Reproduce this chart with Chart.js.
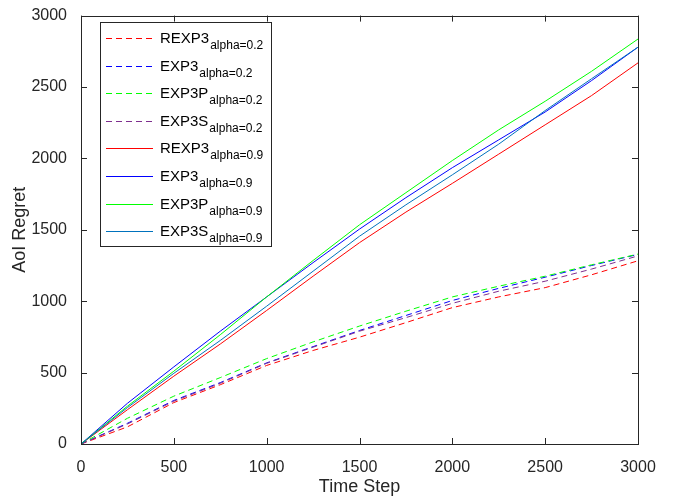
<!DOCTYPE html>
<html>
<head>
<meta charset="utf-8">
<script src="https://cdn.jsdelivr.net/npm/chart.js@4/dist/chart.umd.min.js"></script>
<style>
  html, body { margin: 0; padding: 0; background: #fff; }
  canvas { display: block; }
</style>
</head>
<body>
<canvas id="regretChart" width="675" height="501"></canvas>
<script>
const timeSteps = [0, 250, 500, 750, 1000, 1250, 1500, 1750, 2000, 2250, 2500, 2750, 3000];
const xTicks = [0, 500, 1000, 1500, 2000, 2500, 3000];
const yTicks = [0, 500, 1000, 1500, 2000, 2500, 3000];

// alpha = 0.2 (dashed)
const rexp3Low = [0, 120, 290, 415, 550, 655, 748, 850, 955, 1030, 1095, 1185, 1283];
const exp3Low = [0, 145, 305, 430, 568, 682, 795, 900, 1005, 1090, 1168, 1250, 1328];
const exp3pLow = [0, 180, 335, 465, 598, 715, 826, 930, 1030, 1105, 1175, 1255, 1330];
const exp3sLow = [0, 140, 300, 425, 565, 678, 790, 885, 985, 1070, 1140, 1225, 1317];

// alpha = 0.9 (solid)
const rexp3High = [0, 240, 475, 700, 935, 1175, 1410, 1624, 1825, 2030, 2235, 2440, 2669];
const exp3High = [0, 285, 540, 790, 1030, 1270, 1505, 1725, 1935, 2130, 2325, 2545, 2779];
const exp3pHigh = [0, 265, 510, 765, 1030, 1285, 1535, 1760, 1985, 2200, 2400, 2610, 2836];
const exp3sHigh = [0, 255, 495, 725, 965, 1210, 1455, 1675, 1885, 2100, 2335, 2558, 2779];

const seriesNames = ['REXP3', 'EXP3', 'EXP3P', 'EXP3S', 'REXP3', 'EXP3', 'EXP3P', 'EXP3S'];
const seriesAlpha = ['alpha=0.2', 'alpha=0.2', 'alpha=0.2', 'alpha=0.2', 'alpha=0.9', 'alpha=0.9', 'alpha=0.9', 'alpha=0.9'];
const seriesValues = [rexp3Low, exp3Low, exp3pLow, exp3sLow, rexp3High, exp3High, exp3pHigh, exp3sHigh];
const seriesColors = ['#ff0000', '#0000ff', '#00ff00', '#7e2f8e', '#ff0000', '#0000ff', '#00ff00', '#0072bd'];
const seriesDashed = [true, true, true, true, false, false, false, false];

const AXIS_COLOR = '#262626';
const FONT = "'Liberation Sans', Arial, sans-serif";

const datasets = seriesValues.map((vals, i) => ({
  label: seriesNames[i] + ' ' + seriesAlpha[i],
  data: timeSteps.map((t, j) => ({ x: t, y: vals[j] })),
  borderColor: seriesColors[i],
  borderWidth: 1,
  borderDash: seriesDashed[i] ? [6, 4] : [],
  pointRadius: 0,
  tension: 0,
  fill: false,
  order: seriesValues.length - i
}));

// MATLAB-style box, inward ticks and the subscripted legend
const matlabBox = {
  id: 'matlabBox',
  afterDraw(chart) {
    const ctx = chart.ctx;
    const { left, right, top, bottom } = chart.chartArea;
    const xs = chart.scales.x, ys = chart.scales.y;
    const tl = 6;

    ctx.save();
    ctx.strokeStyle = AXIS_COLOR;
    ctx.lineWidth = 1;
    ctx.setLineDash([]);
    ctx.strokeRect(Math.round(left) + 0.5, Math.round(top) + 0.5, Math.round(right - left), Math.round(bottom - top));

    ctx.beginPath();
    xTicks.forEach(v => {
      const px = Math.round(xs.getPixelForValue(v)) + 0.5;
      ctx.moveTo(px, bottom); ctx.lineTo(px, bottom - tl);
      ctx.moveTo(px, top); ctx.lineTo(px, top + tl);
    });
    yTicks.forEach(v => {
      const py = Math.round(ys.getPixelForValue(v)) + 0.5;
      ctx.moveTo(left, py); ctx.lineTo(left + tl, py);
      ctx.moveTo(right, py); ctx.lineTo(right - tl, py);
    });
    ctx.stroke();

    // legend
    const bx = 100.5, by = 22.5, bw = 171, bh = 224;
    ctx.fillStyle = '#fff';
    ctx.fillRect(bx, by, bw, bh);
    ctx.strokeRect(bx, by, bw, bh);

    seriesNames.forEach((name, i) => {
      const ly = Math.round(38 + i * 27.6) + 0.5;
      ctx.strokeStyle = seriesColors[i];
      ctx.setLineDash(seriesDashed[i] ? [6, 4] : []);
      ctx.beginPath();
      ctx.moveTo(106, ly); ctx.lineTo(153, ly);
      ctx.stroke();

      ctx.fillStyle = '#000';
      ctx.textBaseline = 'alphabetic';
      ctx.textAlign = 'left';
      ctx.font = '15px ' + FONT;
      ctx.fillText(name, 160, ly + 4);
      const w = ctx.measureText(name).width;
      ctx.font = '12px ' + FONT;
      ctx.fillText(seriesAlpha[i], 160 + w + 1, ly + 10.5);
    });
    ctx.restore();
  }
};

new Chart(document.getElementById('regretChart'), {
  type: 'line',
  data: { datasets },
  options: {
    responsive: false,
    animation: false,
    devicePixelRatio: 1,
    layout: { padding: { top: 6, right: 37, bottom: 0, left: 0 } },
    plugins: { legend: { display: false }, tooltip: { enabled: false } },
    scales: {
      x: {
        type: 'linear',
        min: 0,
        max: 3000,
        afterBuildTicks: s => { s.ticks = xTicks.map(v => ({ value: v })); },
        afterFit: s => { s.height = 57; },
        grid: { display: false },
        border: { display: false },
        ticks: { color: AXIS_COLOR, font: { family: FONT, size: 16 }, padding: 6, maxRotation: 0, callback: v => String(v) },
        title: { display: true, text: 'Time Step', color: AXIS_COLOR, font: { family: FONT, size: 18 }, padding: { top: 0, bottom: 3 } }
      },
      y: {
        type: 'linear',
        min: 0,
        max: 3000,
        afterBuildTicks: s => { s.ticks = yTicks.map(v => ({ value: v })); },
        afterFit: s => { s.width = 81; },
        grid: { display: false },
        border: { display: false },
        ticks: { color: AXIS_COLOR, font: { family: FONT, size: 16 }, padding: 6, callback: v => String(v) },
        title: { display: true, text: 'AoI Regret', color: AXIS_COLOR, font: { family: FONT, size: 18 }, padding: { top: 9, bottom: 0 } }
      }
    }
  },
  plugins: [matlabBox]
});
</script>
</body>
</html>
